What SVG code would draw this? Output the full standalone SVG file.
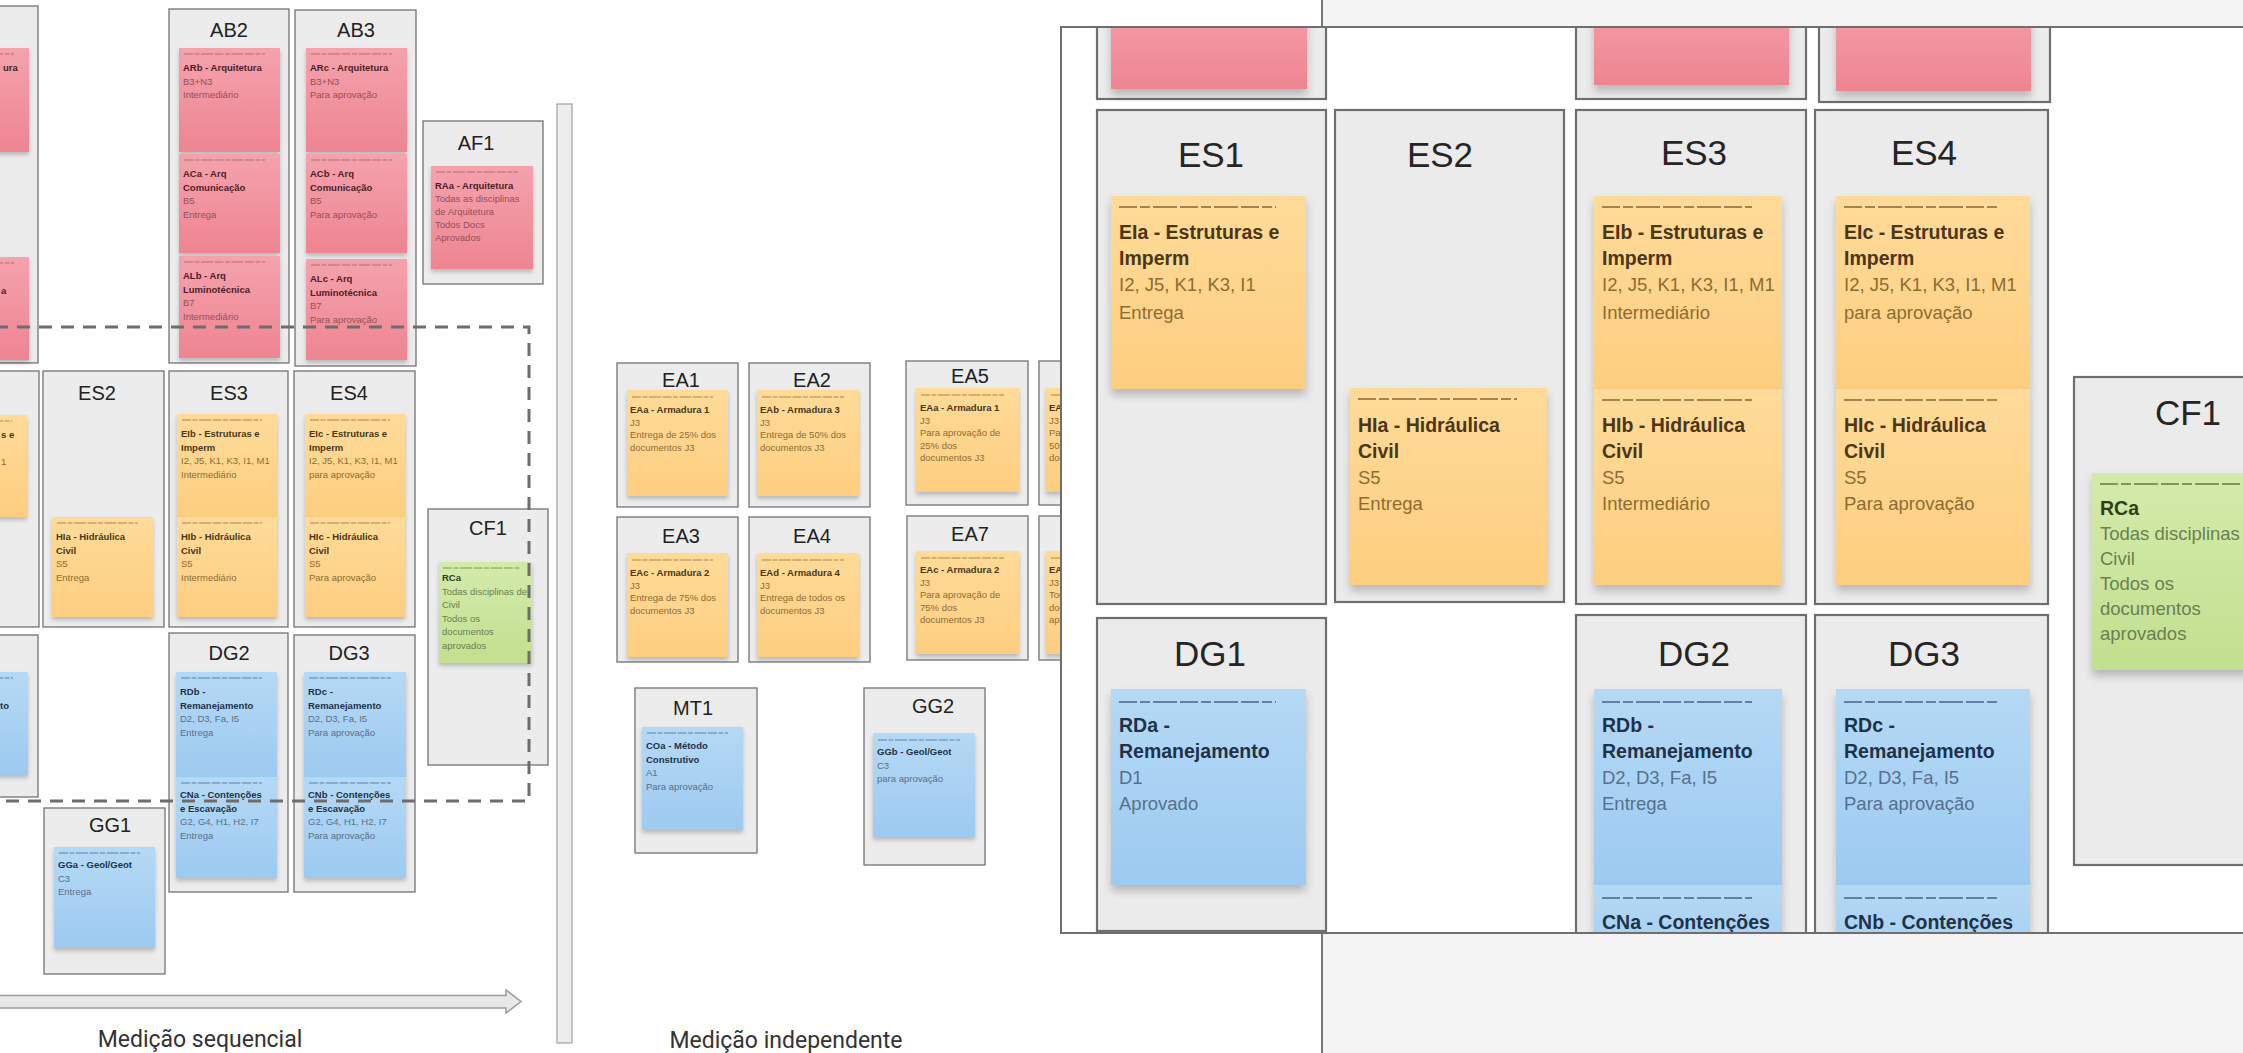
<svg xmlns="http://www.w3.org/2000/svg" width="2243" height="1053" viewBox="0 0 2243 1053">
<defs>
<linearGradient id="gPk" x1="0" y1="0" x2="0" y2="1"><stop offset="0" stop-color="#f4a2ad"/><stop offset="1" stop-color="#ee8591"/></linearGradient>
<linearGradient id="gOr" x1="0" y1="0" x2="0" y2="1"><stop offset="0" stop-color="#fedb99"/><stop offset="1" stop-color="#fdce80"/></linearGradient>
<linearGradient id="gBl" x1="0" y1="0" x2="0" y2="1"><stop offset="0" stop-color="#b5d9f5"/><stop offset="1" stop-color="#9dcaf0"/></linearGradient>
<linearGradient id="gGr" x1="0" y1="0" x2="0" y2="1"><stop offset="0" stop-color="#d4eaab"/><stop offset="1" stop-color="#c2e08f"/></linearGradient>
<filter id="sh" x="-15%" y="-15%" width="130%" height="140%"><feDropShadow dx="0" dy="3" stdDeviation="2" flood-color="#000" flood-opacity="0.22"/></filter>
<filter id="shL" x="-15%" y="-15%" width="130%" height="140%"><feDropShadow dx="0" dy="6" stdDeviation="4" flood-color="#000" flood-opacity="0.22"/></filter>
<clipPath id="pc"><rect x="1062" y="28" width="1181" height="904"/></clipPath>
</defs>
<style>
.box{fill:#ececec;stroke:#7c7c7c;stroke-width:1.4}
.boxL{fill:#ebebeb;stroke:#6e6e6e;stroke-width:2.2}
.ttl{font-family:"Liberation Sans",Arial,sans-serif;fill:#222;text-anchor:middle;font-size:20px}
.ttlL{font-family:"Liberation Sans",Arial,sans-serif;fill:#252525;text-anchor:middle;font-size:35px}
.pk{fill:url(#gPk)}.or{fill:url(#gOr)}.bl{fill:url(#gBl)}.gr{fill:url(#gGr)}
.t{font-family:"Liberation Sans",Arial,sans-serif;font-size:9.5px}
.tL{font-family:"Liberation Sans",Arial,sans-serif;font-size:18.5px}
.b{font-weight:700}
.tL .b{font-size:19.5px}
.or-t{fill:#4b3615}.or-t .v{fill:#8e6c31}
.pk-t{fill:#4f1d26}.pk-t .v{fill:#93505a}
.bl-t{fill:#1e3248}.bl-t .v{fill:#56708d}
.gr-t{fill:#2f3f1d}.gr-t .v{fill:#6b8052}
.hd{fill:none;stroke-width:1.2;stroke-dasharray:9 1.5 5 1.5 12 1.5}
.hdL{fill:none;stroke-width:2.2;stroke-dasharray:18 3 10 3 24 3}
.hor{stroke:#a9844a}.hpk{stroke:#b46a76}.hbl{stroke:#5f80a3}.hgr{stroke:#7f9a55}
.lbl{font-family:Roboto,"Liberation Sans",sans-serif;font-size:23px;fill:#333;text-anchor:middle}
.dash{fill:none;stroke:#6d6d6d;stroke-width:3;stroke-dasharray:13 9}
</style>
<rect x="0" y="0" width="2243" height="1053" fill="#ffffff"/>

<!-- ===== LEFT: sequential measurement ===== -->
<g id="AB1">
<rect class="box" x="-82" y="6" width="120" height="357"/>
<rect class="pk" x="-72" y="48" width="101" height="104" filter="url(#sh)"/>
<line class="hd hpk" x1="-67" y1="54" x2="14" y2="54"/>
<text class="t pk-t"><tspan class="b" x="3" y="71">ura</tspan></text>
<rect class="pk" x="-72" y="257" width="101" height="103" filter="url(#sh)"/>
<line class="hd hpk" x1="-67" y1="263" x2="14" y2="263"/>
<text class="t pk-t"><tspan class="b" x="1" y="293.5">a</tspan></text>
</g>

<g id="AB2">
<rect class="box" x="169" y="9" width="120" height="354"/>
<text class="ttl" x="229" y="37">AB2</text>
<rect class="pk" x="179" y="48" width="101" height="104" filter="url(#sh)"/>
<line class="hd hpk" x1="184" y1="54" x2="265" y2="54"/>
<text class="t pk-t"><tspan class="b" x="183" y="71">ARb - Arquitetura</tspan><tspan class="v" x="183" y="84.5">B3+N3</tspan><tspan class="v" x="183" y="98">Intermediário</tspan></text>
<rect class="pk" x="179" y="154" width="101" height="99" filter="url(#sh)"/>
<line class="hd hpk" x1="184" y1="160" x2="265" y2="160"/>
<text class="t pk-t"><tspan class="b" x="183" y="177">ACa - Arq</tspan><tspan class="b" x="183" y="190.5">Comunicação</tspan><tspan class="v" x="183" y="204">B5</tspan><tspan class="v" x="183" y="217.5">Entrega</tspan></text>
<rect class="pk" x="179" y="256" width="101" height="102" filter="url(#sh)"/>
<line class="hd hpk" x1="184" y1="262" x2="265" y2="262"/>
<text class="t pk-t"><tspan class="b" x="183" y="279">ALb - Arq</tspan><tspan class="b" x="183" y="292.5">Luminotécnica</tspan><tspan class="v" x="183" y="306">B7</tspan><tspan class="v" x="183" y="319.5">Intermediário</tspan></text>
</g>

<g id="AB3">
<rect class="box" x="295" y="10" width="121" height="356"/>
<text class="ttl" x="356" y="37">AB3</text>
<rect class="pk" x="306" y="48" width="101" height="104" filter="url(#sh)"/>
<line class="hd hpk" x1="311" y1="54" x2="392" y2="54"/>
<text class="t pk-t"><tspan class="b" x="310" y="71">ARc - Arquitetura</tspan><tspan class="v" x="310" y="84.5">B3+N3</tspan><tspan class="v" x="310" y="98">Para aprovação</tspan></text>
<rect class="pk" x="306" y="154" width="101" height="99" filter="url(#sh)"/>
<line class="hd hpk" x1="311" y1="160" x2="392" y2="160"/>
<text class="t pk-t"><tspan class="b" x="310" y="177">ACb - Arq</tspan><tspan class="b" x="310" y="190.5">Comunicação</tspan><tspan class="v" x="310" y="204">B5</tspan><tspan class="v" x="310" y="217.5">Para aprovação</tspan></text>
<rect class="pk" x="306" y="259" width="101" height="101" filter="url(#sh)"/>
<line class="hd hpk" x1="311" y1="265" x2="392" y2="265"/>
<text class="t pk-t"><tspan class="b" x="310" y="282">ALc - Arq</tspan><tspan class="b" x="310" y="295.5">Luminotécnica</tspan><tspan class="v" x="310" y="309">B7</tspan><tspan class="v" x="310" y="322.5">Para aprovação</tspan></text>
</g>

<g id="AF1">
<rect class="box" x="423" y="121" width="120" height="163"/>
<text class="ttl" x="476" y="150">AF1</text>
<rect class="pk" x="431" y="166" width="102" height="103" filter="url(#sh)"/>
<line class="hd hpk" x1="436" y1="172" x2="518" y2="172"/>
<text class="t pk-t"><tspan class="b" x="435" y="189">RAa - Arquitetura</tspan><tspan class="v" x="435" y="202">Todas as disciplinas</tspan><tspan class="v" x="435" y="215">de Arquitetura</tspan><tspan class="v" x="435" y="228">Todos Docs</tspan><tspan class="v" x="435" y="241">Aprovados</tspan></text>
</g>

<g id="ES1">
<rect class="box" x="-82" y="371" width="121" height="256"/>
<rect class="or" x="-72" y="415" width="99" height="102" filter="url(#sh)"/>
<line class="hd hor" x1="-67" y1="421" x2="12" y2="421"/>
<text class="t or-t"><tspan class="b" x="1" y="438">s e</tspan><tspan class="v" x="1" y="465">1</tspan></text>
</g>

<g id="ES2">
<rect class="box" x="43" y="371" width="121" height="256"/>
<text class="ttl" x="97" y="400">ES2</text>
<rect class="or" x="52" y="517" width="101" height="100" filter="url(#sh)"/>
<line class="hd hor" x1="57" y1="523" x2="138" y2="523"/>
<text class="t or-t"><tspan class="b" x="56" y="540">HIa - Hidráulica</tspan><tspan class="b" x="56" y="553.5">Civil</tspan><tspan class="v" x="56" y="567">S5</tspan><tspan class="v" x="56" y="580.5">Entrega</tspan></text>
</g>

<g id="ES3">
<rect class="box" x="169" y="371" width="119" height="256"/>
<text class="ttl" x="229" y="400">ES3</text>
<rect class="or" x="177" y="414" width="100" height="103" filter="url(#sh)"/>
<line class="hd hor" x1="182" y1="420" x2="262" y2="420"/>
<text class="t or-t"><tspan class="b" x="181" y="437">EIb - Estruturas e</tspan><tspan class="b" x="181" y="450.5">Imperm</tspan><tspan class="v" x="181" y="464">I2, J5, K1, K3, I1, M1</tspan><tspan class="v" x="181" y="477.5">Intermediário</tspan></text>
<rect class="or" x="177" y="517" width="100" height="100" filter="url(#sh)"/>
<line class="hd hor" x1="182" y1="523" x2="262" y2="523"/>
<text class="t or-t"><tspan class="b" x="181" y="540">HIb - Hidráulica</tspan><tspan class="b" x="181" y="553.5">Civil</tspan><tspan class="v" x="181" y="567">S5</tspan><tspan class="v" x="181" y="580.5">Intermediário</tspan></text>
</g>

<g id="ES4">
<rect class="box" x="294" y="371" width="121" height="256"/>
<text class="ttl" x="349" y="400">ES4</text>
<rect class="or" x="305" y="414" width="100" height="103" filter="url(#sh)"/>
<line class="hd hor" x1="310" y1="420" x2="390" y2="420"/>
<text class="t or-t"><tspan class="b" x="309" y="437">EIc - Estruturas e</tspan><tspan class="b" x="309" y="450.5">Imperm</tspan><tspan class="v" x="309" y="464">I2, J5, K1, K3, I1, M1</tspan><tspan class="v" x="309" y="477.5">para aprovação</tspan></text>
<rect class="or" x="305" y="517" width="100" height="100" filter="url(#sh)"/>
<line class="hd hor" x1="310" y1="523" x2="390" y2="523"/>
<text class="t or-t"><tspan class="b" x="309" y="540">HIc - Hidráulica</tspan><tspan class="b" x="309" y="553.5">Civil</tspan><tspan class="v" x="309" y="567">S5</tspan><tspan class="v" x="309" y="580.5">Para aprovação</tspan></text>
</g>

<g id="CF1">
<rect class="box" x="428" y="509" width="120" height="256"/>
<text class="ttl" x="488" y="535">CF1</text>
<rect class="gr" x="439" y="562" width="93" height="101" filter="url(#sh)"/>
<line class="hd hgr" x1="443" y1="568" x2="520" y2="568"/>
<text class="t gr-t"><tspan class="b" x="442" y="581">RCa</tspan><tspan class="v" x="442" y="594.5">Todas disciplinas de</tspan><tspan class="v" x="442" y="608">Civil</tspan><tspan class="v" x="442" y="621.5">Todos os</tspan><tspan class="v" x="442" y="635">documentos</tspan><tspan class="v" x="442" y="648.5">aprovados</tspan></text>
</g>

<g id="DG1">
<rect class="box" x="-82" y="635" width="120" height="162"/>
<rect class="bl" x="-72" y="672" width="100" height="103" filter="url(#sh)"/>
<line class="hd hbl" x1="-67" y1="678" x2="13" y2="678"/>
<text class="t bl-t"><tspan class="b" x="0" y="708.5">to</tspan></text>
</g>

<g id="DG2">
<rect class="box" x="169" y="633" width="119" height="259"/>
<text class="ttl" x="229" y="660">DG2</text>
<rect class="bl" x="176" y="672" width="101" height="105" filter="url(#sh)"/>
<line class="hd hbl" x1="181" y1="678" x2="262" y2="678"/>
<text class="t bl-t"><tspan class="b" x="180" y="695">RDb -</tspan><tspan class="b" x="180" y="708.5">Remanejamento</tspan><tspan class="v" x="180" y="722">D2, D3, Fa, I5</tspan><tspan class="v" x="180" y="735.5">Entrega</tspan></text>
<rect class="bl" x="176" y="777" width="101" height="101" filter="url(#sh)"/>
<line class="hd hbl" x1="181" y1="783" x2="262" y2="783"/>
<text class="t bl-t"><tspan class="b" x="180" y="798">CNa - Contenções</tspan><tspan class="b" x="180" y="811.5">e Escavação</tspan><tspan class="v" x="180" y="825">G2, G4, H1, H2, I7</tspan><tspan class="v" x="180" y="838.5">Entrega</tspan></text>
</g>

<g id="DG3">
<rect class="box" x="294" y="635" width="121" height="257"/>
<text class="ttl" x="349" y="660">DG3</text>
<rect class="bl" x="304" y="672" width="102" height="105" filter="url(#sh)"/>
<line class="hd hbl" x1="309" y1="678" x2="391" y2="678"/>
<text class="t bl-t"><tspan class="b" x="308" y="695">RDc -</tspan><tspan class="b" x="308" y="708.5">Remanejamento</tspan><tspan class="v" x="308" y="722">D2, D3, Fa, I5</tspan><tspan class="v" x="308" y="735.5">Para aprovação</tspan></text>
<rect class="bl" x="304" y="777" width="102" height="101" filter="url(#sh)"/>
<line class="hd hbl" x1="309" y1="783" x2="391" y2="783"/>
<text class="t bl-t"><tspan class="b" x="308" y="798">CNb - Contenções</tspan><tspan class="b" x="308" y="811.5">e Escavação</tspan><tspan class="v" x="308" y="825">G2, G4, H1, H2, I7</tspan><tspan class="v" x="308" y="838.5">Para aprovação</tspan></text>
</g>

<g id="GG1">
<rect class="box" x="44" y="808" width="121" height="166"/>
<text class="ttl" x="110" y="832">GG1</text>
<rect class="bl" x="54" y="847" width="101" height="101" filter="url(#sh)"/>
<line class="hd hbl" x1="59" y1="853" x2="140" y2="853"/>
<text class="t bl-t"><tspan class="b" x="58" y="868">GGa - Geol/Geot</tspan><tspan class="v" x="58" y="881.5">C3</tspan><tspan class="v" x="58" y="895">Entrega</tspan></text>
</g>

<!-- ===== MIDDLE: independent measurement ===== -->
<g id="EA1">
<rect class="box" x="617" y="363" width="121" height="144"/>
<text class="ttl" x="681" y="387">EA1</text>
<rect class="or" x="627" y="390" width="101" height="106" filter="url(#sh)"/>
<line class="hd hor" x1="632" y1="397" x2="713" y2="397"/>
<text class="t or-t"><tspan class="b" x="630" y="413">EAa - Armadura 1</tspan><tspan class="v" x="630" y="425.5">J3</tspan><tspan class="v" x="630" y="438">Entrega de 25% dos</tspan><tspan class="v" x="630" y="450.5">documentos J3</tspan></text>
</g>
<g id="EA2">
<rect class="box" x="749" y="363" width="121" height="144"/>
<text class="ttl" x="812" y="387">EA2</text>
<rect class="or" x="757" y="390" width="102" height="106" filter="url(#sh)"/>
<line class="hd hor" x1="762" y1="397" x2="844" y2="397"/>
<text class="t or-t"><tspan class="b" x="760" y="413">EAb - Armadura 3</tspan><tspan class="v" x="760" y="425.5">J3</tspan><tspan class="v" x="760" y="438">Entrega de 50% dos</tspan><tspan class="v" x="760" y="450.5">documentos J3</tspan></text>
</g>
<g id="EA5">
<rect class="box" x="906" y="361" width="122" height="144"/>
<text class="ttl" x="970" y="383">EA5</text>
<rect class="or" x="916" y="388" width="103" height="104" filter="url(#sh)"/>
<line class="hd hor" x1="921" y1="395" x2="1004" y2="395"/>
<text class="t or-t"><tspan class="b" x="920" y="411">EAa - Armadura 1</tspan><tspan class="v" x="920" y="423.5">J3</tspan><tspan class="v" x="920" y="436">Para aprovação de</tspan><tspan class="v" x="920" y="448.5">25% dos</tspan><tspan class="v" x="920" y="461">documentos J3</tspan></text>
</g>
<g id="EA6">
<rect class="box" x="1039" y="361" width="122" height="144"/>
<rect class="or" x="1046" y="388" width="103" height="104" filter="url(#sh)"/>
<line class="hd hor" x1="1051" y1="395" x2="1134" y2="395"/>
<text class="t or-t"><tspan class="b" x="1049" y="411">EAb - Armadura 3</tspan><tspan class="v" x="1049" y="423.5">J3</tspan><tspan class="v" x="1049" y="436">Para aprovação de</tspan><tspan class="v" x="1049" y="448.5">50% dos</tspan><tspan class="v" x="1049" y="461">documentos J3</tspan></text>
</g>
<g id="EA3">
<rect class="box" x="617" y="517" width="121" height="145"/>
<text class="ttl" x="681" y="543">EA3</text>
<rect class="or" x="627" y="553" width="101" height="104" filter="url(#sh)"/>
<line class="hd hor" x1="632" y1="560" x2="713" y2="560"/>
<text class="t or-t"><tspan class="b" x="630" y="576">EAc - Armadura 2</tspan><tspan class="v" x="630" y="588.5">J3</tspan><tspan class="v" x="630" y="601">Entrega de 75% dos</tspan><tspan class="v" x="630" y="613.5">documentos J3</tspan></text>
</g>
<g id="EA4">
<rect class="box" x="749" y="517" width="121" height="145"/>
<text class="ttl" x="812" y="543">EA4</text>
<rect class="or" x="757" y="553" width="102" height="104" filter="url(#sh)"/>
<line class="hd hor" x1="762" y1="560" x2="844" y2="560"/>
<text class="t or-t"><tspan class="b" x="760" y="576">EAd - Armadura 4</tspan><tspan class="v" x="760" y="588.5">J3</tspan><tspan class="v" x="760" y="601">Entrega de todos os</tspan><tspan class="v" x="760" y="613.5">documentos J3</tspan></text>
</g>
<g id="EA7">
<rect class="box" x="907" y="516" width="121" height="144"/>
<text class="ttl" x="970" y="541">EA7</text>
<rect class="or" x="916" y="551" width="103" height="103" filter="url(#sh)"/>
<line class="hd hor" x1="921" y1="558" x2="1004" y2="558"/>
<text class="t or-t"><tspan class="b" x="920" y="573">EAc - Armadura 2</tspan><tspan class="v" x="920" y="585.5">J3</tspan><tspan class="v" x="920" y="598">Para aprovação de</tspan><tspan class="v" x="920" y="610.5">75% dos</tspan><tspan class="v" x="920" y="623">documentos J3</tspan></text>
</g>
<g id="EA8">
<rect class="box" x="1039" y="516" width="122" height="144"/>
<rect class="or" x="1046" y="551" width="103" height="103" filter="url(#sh)"/>
<line class="hd hor" x1="1051" y1="558" x2="1134" y2="558"/>
<text class="t or-t"><tspan class="b" x="1049" y="573">EAd - Armadura 4</tspan><tspan class="v" x="1049" y="585.5">J3</tspan><tspan class="v" x="1049" y="598">Todos os</tspan><tspan class="v" x="1049" y="610.5">documentos</tspan><tspan class="v" x="1049" y="623">aprovados</tspan></text>
</g>
<g id="MT1">
<rect class="box" x="635" y="688" width="122" height="165"/>
<text class="ttl" x="693" y="715">MT1</text>
<rect class="bl" x="642" y="727" width="101" height="103" filter="url(#sh)"/>
<line class="hd hbl" x1="647" y1="733" x2="728" y2="733"/>
<text class="t bl-t"><tspan class="b" x="646" y="749">COa - Método</tspan><tspan class="b" x="646" y="762.5">Construtivo</tspan><tspan class="v" x="646" y="776">A1</tspan><tspan class="v" x="646" y="789.5">Para aprovação</tspan></text>
</g>
<g id="GG2">
<rect class="box" x="864" y="688" width="121" height="177"/>
<text class="ttl" x="933" y="713">GG2</text>
<rect class="bl" x="873" y="733" width="102" height="104" filter="url(#sh)"/>
<line class="hd hbl" x1="878" y1="740" x2="960" y2="740"/>
<text class="t bl-t"><tspan class="b" x="877" y="755">GGb - Geol/Geot</tspan><tspan class="v" x="877" y="768.5">C3</tspan><tspan class="v" x="877" y="782">para aprovação</tspan></text>
</g>

<!-- ===== connectors / separators ===== -->
<g id="connectors">
<path class="dash" d="M -5 327 H 529 V 801 H -5"/>
<path d="M -5 995.5 H 506 V 990 L 521 1001.5 L 506 1013 V 1008 H -5 Z" fill="#e8e8e8" stroke="#9c9c9c" stroke-width="1.5"/>
<rect x="557" y="104" width="15" height="939" fill="#ededed" stroke="#a0a0a0" stroke-width="1.2"/>
</g>
<text class="lbl" x="200" y="1047">Medição sequencial</text>
<text class="lbl" x="786" y="1048">Medição independente</text>

<!-- ===== RIGHT: magnified panel ===== -->
<rect x="1323" y="0" width="920" height="27" fill="#f3f3f3"/>
<rect x="1323" y="934" width="920" height="119" fill="#f3f3f3"/>
<line x1="1322" y1="0" x2="1322" y2="28" stroke="#777" stroke-width="2"/>
<line x1="1322" y1="932" x2="1322" y2="1053" stroke="#777" stroke-width="2"/>
<rect x="1061" y="27" width="1200" height="906" fill="#ffffff"/>
<g clip-path="url(#pc)">
<g id="AB1-zoom">
<rect class="boxL" x="1097" y="-10" width="229" height="109"/>
<rect class="pk" x="1111" y="-10" width="196" height="99" filter="url(#shL)"/>
</g>
<g id="AB2-zoom">
<rect class="boxL" x="1576" y="-10" width="230" height="109"/>
<rect class="pk" x="1594" y="-10" width="195" height="95" filter="url(#shL)"/>
</g>
<g id="AB3-zoom">
<rect class="boxL" x="1819" y="-10" width="231" height="112"/>
<rect class="pk" x="1836" y="-10" width="195" height="101" filter="url(#shL)"/>
</g>
<g id="ES1-zoom">
<rect class="boxL" x="1097" y="110" width="229" height="494"/>
<text class="ttlL" x="1211" y="167">ES1</text>
<rect class="or" x="1111" y="196" width="195" height="193" filter="url(#shL)"/>
<line class="hdL hor" x1="1119" y1="207" x2="1276" y2="207"/>
<text class="tL or-t"><tspan class="b" x="1119" y="239">EIa - Estruturas e</tspan><tspan class="b" x="1119" y="265">Imperm</tspan><tspan class="v" x="1119" y="291">I2, J5, K1, K3, I1</tspan><tspan class="v" x="1119" y="319">Entrega</tspan></text>
</g>
<g id="ES2-zoom">
<rect class="boxL" x="1335" y="110" width="229" height="492"/>
<text class="ttlL" x="1440" y="167">ES2</text>
<rect class="or" x="1350" y="388" width="197" height="197" filter="url(#shL)"/>
<line class="hdL hor" x1="1358" y1="399" x2="1517" y2="399"/>
<text class="tL or-t"><tspan class="b" x="1358" y="432">HIa - Hidráulica</tspan><tspan class="b" x="1358" y="458">Civil</tspan><tspan class="v" x="1358" y="484">S5</tspan><tspan class="v" x="1358" y="510">Entrega</tspan></text>
</g>
<g id="ES3-zoom">
<rect class="boxL" x="1576" y="110" width="230" height="494"/>
<text class="ttlL" x="1694" y="165">ES3</text>
<rect class="or" x="1594" y="196" width="188" height="193" filter="url(#shL)"/>
<line class="hdL hor" x1="1602" y1="207" x2="1752" y2="207"/>
<text class="tL or-t"><tspan class="b" x="1602" y="239">EIb - Estruturas e</tspan><tspan class="b" x="1602" y="265">Imperm</tspan><tspan class="v" x="1602" y="291">I2, J5, K1, K3, I1, M1</tspan><tspan class="v" x="1602" y="319">Intermediário</tspan></text>
<rect class="or" x="1594" y="389" width="188" height="196" filter="url(#shL)"/>
<line class="hdL hor" x1="1602" y1="400" x2="1752" y2="400"/>
<text class="tL or-t"><tspan class="b" x="1602" y="432">HIb - Hidráulica</tspan><tspan class="b" x="1602" y="458">Civil</tspan><tspan class="v" x="1602" y="484">S5</tspan><tspan class="v" x="1602" y="510">Intermediário</tspan></text>
</g>
<g id="ES4-zoom">
<rect class="boxL" x="1815" y="110" width="233" height="494"/>
<text class="ttlL" x="1924" y="165">ES4</text>
<rect class="or" x="1836" y="196" width="194" height="193" filter="url(#shL)"/>
<line class="hdL hor" x1="1844" y1="207" x2="2000" y2="207"/>
<text class="tL or-t"><tspan class="b" x="1844" y="239">EIc - Estruturas e</tspan><tspan class="b" x="1844" y="265">Imperm</tspan><tspan class="v" x="1844" y="291">I2, J5, K1, K3, I1, M1</tspan><tspan class="v" x="1844" y="319">para aprovação</tspan></text>
<rect class="or" x="1836" y="389" width="194" height="196" filter="url(#shL)"/>
<line class="hdL hor" x1="1844" y1="400" x2="2000" y2="400"/>
<text class="tL or-t"><tspan class="b" x="1844" y="432">HIc - Hidráulica</tspan><tspan class="b" x="1844" y="458">Civil</tspan><tspan class="v" x="1844" y="484">S5</tspan><tspan class="v" x="1844" y="510">Para aprovação</tspan></text>
</g>
<g id="CF1-zoom">
<rect class="boxL" x="2074" y="377" width="200" height="488"/>
<text class="ttlL" x="2188" y="425">CF1</text>
<rect class="gr" x="2092" y="473" width="200" height="197" filter="url(#shL)"/>
<line class="hdL hgr" x1="2100" y1="484" x2="2262" y2="484"/>
<text class="tL gr-t"><tspan class="b" x="2100" y="515">RCa</tspan><tspan class="v" x="2100" y="540">Todas disciplinas</tspan><tspan class="v" x="2100" y="565">Civil</tspan><tspan class="v" x="2100" y="590">Todos os</tspan><tspan class="v" x="2100" y="615">documentos</tspan><tspan class="v" x="2100" y="640">aprovados</tspan></text>
</g>
<g id="DG1-zoom">
<rect class="boxL" x="1097" y="618" width="229" height="313"/>
<text class="ttlL" x="1210" y="666">DG1</text>
<rect class="bl" x="1111" y="689" width="195" height="196" filter="url(#shL)"/>
<line class="hdL hbl" x1="1119" y1="702" x2="1276" y2="702"/>
<text class="tL bl-t"><tspan class="b" x="1119" y="732">RDa -</tspan><tspan class="b" x="1119" y="758">Remanejamento</tspan><tspan class="v" x="1119" y="784">D1</tspan><tspan class="v" x="1119" y="810">Aprovado</tspan></text>
</g>
<g id="DG2-zoom">
<rect class="boxL" x="1576" y="615" width="230" height="330"/>
<text class="ttlL" x="1694" y="666">DG2</text>
<rect class="bl" x="1594" y="689" width="188" height="196" filter="url(#shL)"/>
<line class="hdL hbl" x1="1602" y1="702" x2="1752" y2="702"/>
<text class="tL bl-t"><tspan class="b" x="1602" y="732">RDb -</tspan><tspan class="b" x="1602" y="758">Remanejamento</tspan><tspan class="v" x="1602" y="784">D2, D3, Fa, I5</tspan><tspan class="v" x="1602" y="810">Entrega</tspan></text>
<rect class="bl" x="1594" y="885" width="188" height="100" filter="url(#shL)"/>
<line class="hdL hbl" x1="1602" y1="898" x2="1752" y2="898"/>
<text class="tL bl-t"><tspan class="b" x="1602" y="929">CNa - Contenções</tspan></text>
</g>
<g id="DG3-zoom">
<rect class="boxL" x="1815" y="615" width="233" height="330"/>
<text class="ttlL" x="1924" y="666">DG3</text>
<rect class="bl" x="1836" y="689" width="194" height="196" filter="url(#shL)"/>
<line class="hdL hbl" x1="1844" y1="702" x2="2000" y2="702"/>
<text class="tL bl-t"><tspan class="b" x="1844" y="732">RDc -</tspan><tspan class="b" x="1844" y="758">Remanejamento</tspan><tspan class="v" x="1844" y="784">D2, D3, Fa, I5</tspan><tspan class="v" x="1844" y="810">Para aprovação</tspan></text>
<rect class="bl" x="1836" y="885" width="194" height="100" filter="url(#shL)"/>
<line class="hdL hbl" x1="1844" y1="898" x2="2000" y2="898"/>
<text class="tL bl-t"><tspan class="b" x="1844" y="929">CNb - Contenções</tspan></text>
</g>
</g>
<rect x="1061" y="27" width="1200" height="906" fill="none" stroke="#6e6e6e" stroke-width="2"/>
</svg>
